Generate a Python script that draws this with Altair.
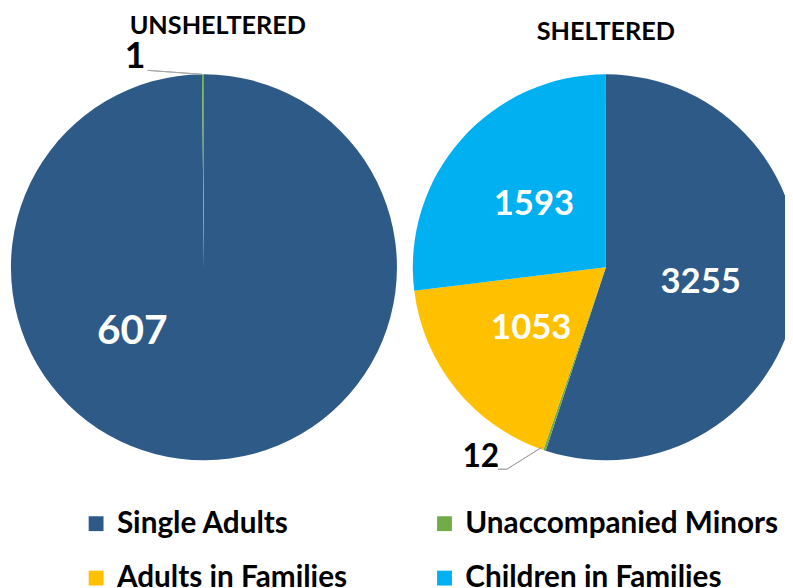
import math
import altair as alt
import pandas as pd

categories = ["Single Adults", "Unaccompanied Minors", "Adults in Families", "Children in Families"]
colors = ["#2E5A88", "#70AD47", "#FFC000", "#00B0F0"]
groups = ["UNSHELTERED", "SHELTERED"]
unsheltered = [607, 1, 0, 0]
sheltered = [3255, 12, 1053, 1593]

rows = []
for g, vals in zip(groups, [unsheltered, sheltered]):
    for i, (c, v) in enumerate(zip(categories, vals)):
        rows.append({"group": g, "category": c, "value": v, "order": i})
df = pd.DataFrame(rows)

FONT = "Lato"

base = alt.Chart(df).transform_window(
    cum="sum(value)", groupby=["group"], sort=[alt.SortField("order")],
    frame=[None, 0]
).transform_joinaggregate(
    total="sum(value)", groupby=["group"]
).transform_calculate(
    start="(datum.cum - datum.value) / datum.total",
    end="datum.cum / datum.total",
    mid="(datum.cum - datum.value / 2) / datum.total",
)

xenc = alt.X("group:N", scale=alt.Scale(domain=groups, range=[198, 604], padding=0), axis=None)
theta_scale = alt.Scale(domain=[0, 1], range=[0, 2 * math.pi])

pies = base.mark_arc(outerRadius=195, stroke=None).encode(
    x=xenc,
    y=alt.value(259),
    theta=alt.Theta("start:Q", scale=theta_scale),
    theta2="end:Q",
    color=alt.Color(
        "category:N",
        scale=alt.Scale(domain=categories, range=colors),
        legend=alt.Legend(
            title=None, orient="none", legendX=74, legendY=503, columns=2,
            direction="horizontal",
            symbolType="square", symbolSize=225, symbolStrokeWidth=0,
            labelFont=FONT, labelFontSize=30, labelFontWeight="bold", labelColor="#000000",
            labelOffset=6, columnPadding=83, rowPadding=25, labelLimit=400, padding=0,
        ),
    ),
    order=alt.Order("order:Q"),
)

inner_labels = base.transform_filter(
    "datum.group == 'SHELTERED' && datum.value > 100"
).mark_text(radius=97, font=FONT, fontSize=35, fontWeight="bold", color="white",
            align="center", baseline="middle").encode(
    x=xenc, y=alt.value(259),
    theta=alt.Theta("mid:Q", scale=theta_scale),
    text=alt.Text("value:Q"),
)

big_label = base.transform_filter(
    "datum.group == 'UNSHELTERED' && datum.order == 0"
).mark_text(theta=3.974, radius=98, font=FONT, fontSize=41, fontWeight="bold", color="white",
            align="center", baseline="middle").encode(
    x=xenc, y=alt.value(259), text=alt.Text("value:Q"),
)

one_label = base.transform_filter(
    "datum.group == 'UNSHELTERED' && datum.order == 1"
).mark_text(theta=5.966, radius=223, font=FONT, fontSize=36, fontWeight="bold", color="black",
            align="center", baseline="middle").encode(
    x=xenc, y=alt.value(259), text=alt.Text("value:Q"),
)

twelve_label = base.transform_filter(
    "datum.group == 'SHELTERED' && datum.order == 1"
).mark_text(theta=3.723, radius=230, font=FONT, fontSize=32, fontWeight="bold", color="black",
            align="center", baseline="middle").encode(
    x=xenc, y=alt.value(259), text=alt.Text("value:Q"),
)

title_df = pd.DataFrame({"group": groups})
title_left = alt.Chart(title_df).transform_filter("datum.group == 'UNSHELTERED'").mark_text(
    font=FONT, fontSize=25.5, fontWeight="bold", color="black", dx=14, baseline="middle"
).encode(x=xenc, y=alt.value(15), text="group:N")
title_right = alt.Chart(title_df).transform_filter("datum.group == 'SHELTERED'").mark_text(
    font=FONT, fontSize=25.5, fontWeight="bold", color="black", baseline="middle"
).encode(x=xenc, y=alt.value(21), text="group:N")

lead_color = "#A6A6A6"
leader1 = alt.Chart(title_df).mark_rule(color=lead_color, strokeWidth=1).encode(
    x=alt.value(141), y=alt.value(60), x2=alt.value(196), y2=alt.value(64))
leader2a = alt.Chart(title_df).mark_rule(color=lead_color, strokeWidth=1).encode(
    x=alt.value(495), y=alt.value(463), x2=alt.value(504), y2=alt.value(463))
leader2b = alt.Chart(title_df).mark_rule(color=lead_color, strokeWidth=1).encode(
    x=alt.value(504), y=alt.value(463), x2=alt.value(539), y2=alt.value(441))

chart = alt.layer(
    pies, inner_labels, big_label, one_label, twelve_label,
    title_left, title_right, leader1, leader2a, leader2b
).properties(
    width=785, height=580, autosize=alt.AutoSizeParams(type="none"), padding=0,
    background="white",
).configure_view(stroke=None)

chart.save("out.html", embed_options={"renderer": "svg", "actions": False})
